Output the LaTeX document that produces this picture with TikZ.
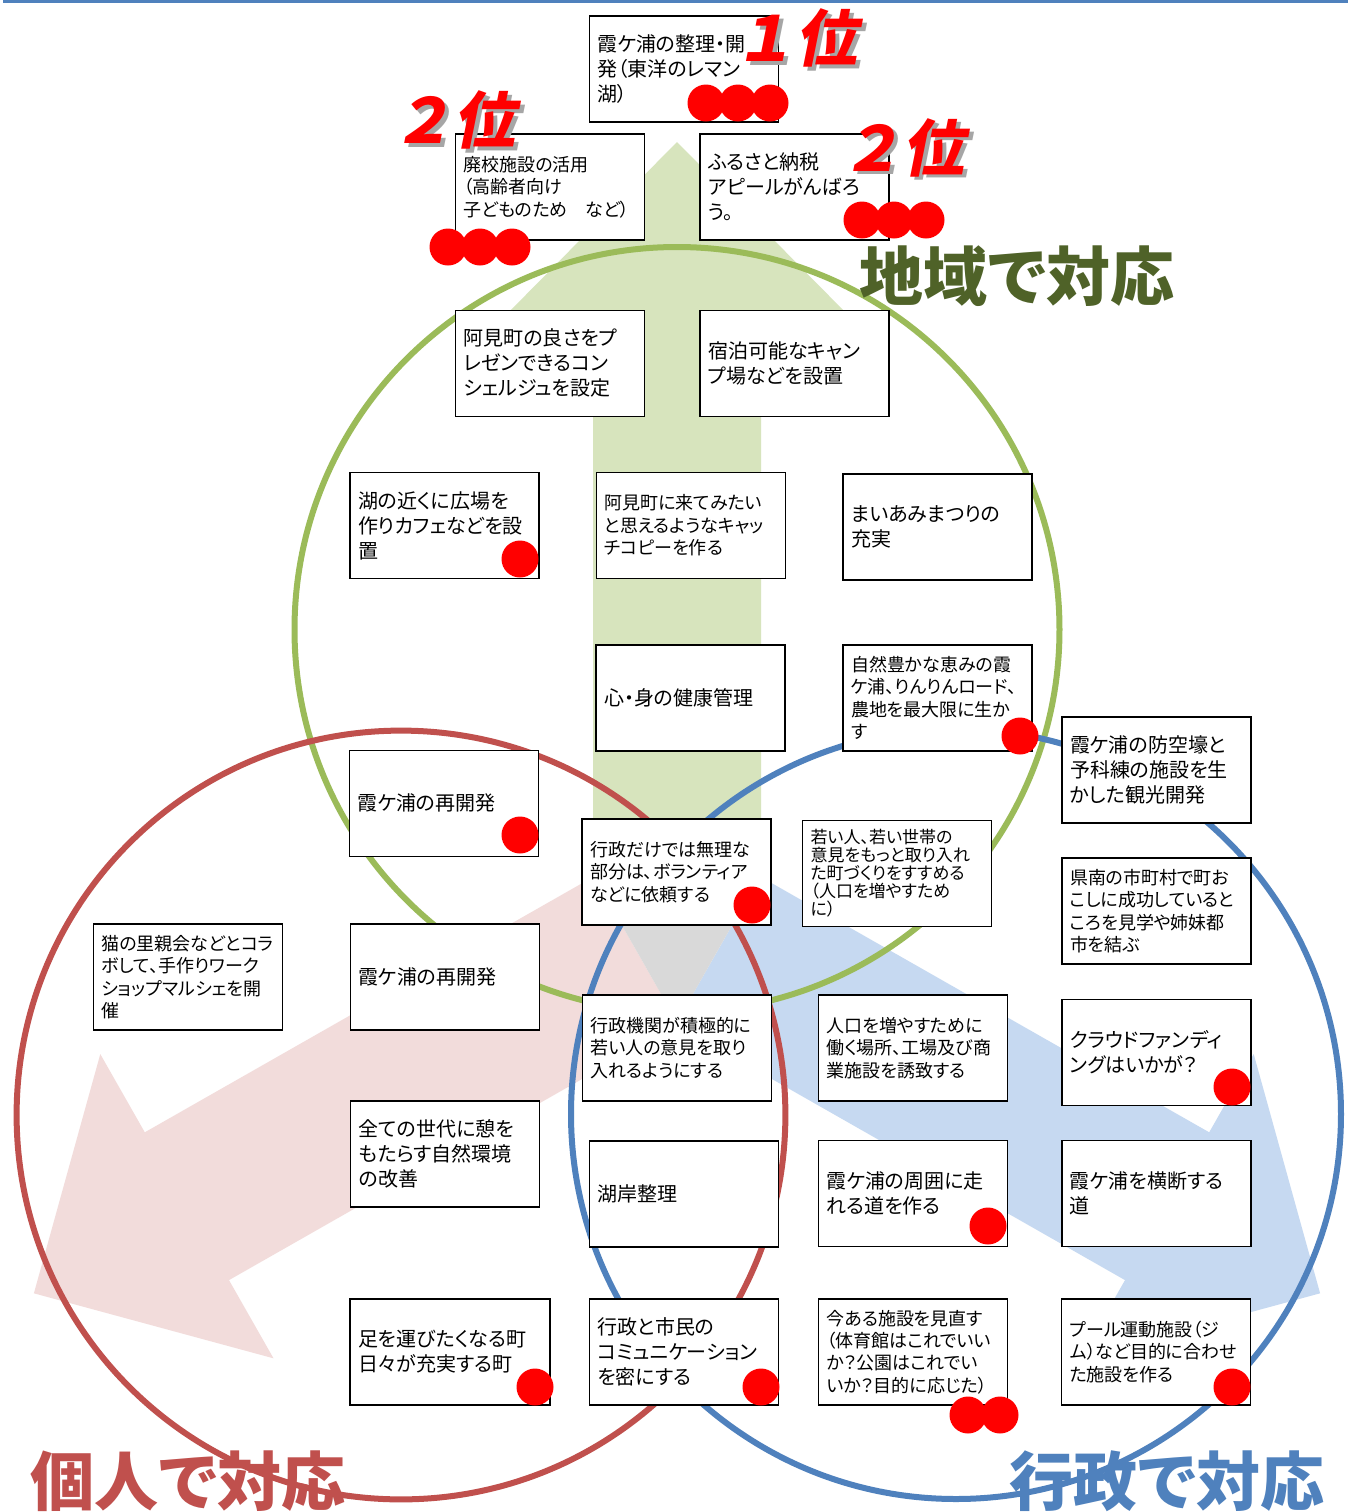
\documentclass[tikz,border=0pt]{standalone}
\usepackage{fontspec}
\newfontfamily\cjk{Noto Sans CJK JP}[RawFeature=+palt]
\newfontfamily\cjkrank{Noto Sans CJK JP}[FakeSlant=0.2]
\definecolor{cgreen}{HTML}{9BBB59}
\definecolor{cred}{HTML}{C0504D}
\definecolor{cblue}{HTML}{4F81BD}
\definecolor{agreen}{HTML}{D7E4BD}
\definecolor{apink}{HTML}{F2DCDB}
\definecolor{ablue}{HTML}{C6D9F1}
\definecolor{agray}{HTML}{D9D9D9}
\definecolor{tgreen}{HTML}{4F6228}
\definecolor{dotred}{HTML}{FF0000}
\newcommand{\rankshadow}[1]{\makebox[0pt][l]{\raisebox{-1.75pt}{\hspace{2pt}\color{black!35}#1}}#1}
\tikzset{
  bx/.style={draw=black, line width=0.6pt, fill=white, minimum height=53pt,
    text width=86.5pt, inner xsep=4pt, inner ysep=0pt, align=left},
  fa/.style={font=\cjk\fontsize{10}{12.5}\selectfont},
  fb/.style={font=\cjk\fontsize{9}{11.2}\selectfont},
  fc/.style={font=\cjk\fontsize{8.5}{9}\selectfont},
  reddot/.style={circle, fill=dotred, draw=none, minimum size=18.5pt, inner sep=0pt},
  ring/.style={line width=3pt},
  biglabel/.style={font=\cjk\bfseries\fontsize{32}{32}\selectfont, anchor=base, inner sep=0pt},
  rank/.style={font=\cjkrank\bfseries\fontsize{31}{31}\selectfont, anchor=base, inner sep=0pt, text=dotred},
}
\begin{document}
\begin{tikzpicture}[x=0.5pt,y=-0.5pt]
\useasboundingbox (0,0) rectangle (1355,1512);
\fill[white] (0,0) rectangle (1355,1512);
\fill[cblue] (3,0) rectangle (1348,2.5);

% arrows
\fill[agreen] (593,880) -- (593,318) -- (503,318) -- (677,142) -- (851,318) -- (761,318) -- (761,880) -- cycle;
\fill[apink] (594.1,876.4) -- (144.8,1132.3) -- (100.3,1054.1) -- (33.9,1293.3) -- (273.5,1358.3) -- (229,1280.1) -- (678.3,1024.2) -- cycle;
\fill[ablue] (759.9,876.4) -- (1209.2,1132.3) -- (1253.7,1054.1) -- (1320.1,1293.3) -- (1080.5,1358.3) -- (1125,1280.1) -- (675.7,1024.2) -- cycle;
\fill[agray] (594.1,876.4) -- (759.9,876.4) -- (677,1022) -- cycle;

% circles
\draw[ring, cgreen] (677,629.5) circle[radius=191.25pt];
\draw[ring, cred] (401,1115) circle[radius=192.2pt];
\draw[ring, cblue] (956,1114) circle[radius=192.5pt];

% boxes
\node[bx,fa] (b1) at (684,69) {霞ケ浦の整理・開\\発（東洋のレマン\\湖）};
\node[bx,fb] (b2) at (550,187) {廃校施設の活用\\（高齢者向け\\子どものため　など）};
\node[bx,fa] (b3) at (794.5,187) {ふるさと納税\\アピールがんばろ\\う。};
\node[bx,fa] (b4) at (550,363.4) {阿見町の良さをプ\\レゼンできるコン\\シェルジュを設定};
\node[bx,fa] (b5) at (794.5,363.4) {宿泊可能なキャン\\プ場などを設置};
\node[bx,fa] (b6) at (444.5,525.5) {湖の近くに広場を\\作りカフェなどを設\\置};
\node[bx,fb] (b7) at (690.7,525.5) {阿見町に来てみたい\\と思えるようなキャッ\\チコピーを作る};
\node[bx,fa] (b8) at (937.5,527) {まいあみまつりの\\充実};
\node[bx,fa] (b9) at (690.5,698) {心・身の健康管理};
\node[bx,fb] (b10) at (937.5,698) {自然豊かな恵みの霞\\ケ浦、りんりんロード、\\農地を最大限に生か\\す};
\node[bx,fa] (b11) at (1156.5,770) {霞ケ浦の防空壕と\\予科練の施設を生\\かした観光開発};
\node[bx,fa] (b12) at (444,803.4) {霞ケ浦の再開発};
\node[bx,fb] (b13) at (676.5,872) {行政だけでは無理な\\部分は、ボランティア\\などに依頼する};
\node[bx,fc] (b14) at (897,873.5) {若い人、若い世帯の\\意見をもっと取り入れ\\た町づくりをすすめる\\（人口を増やすため\\に）};
\node[bx,fb] (b15) at (1156.5,911) {県南の市町村で町お\\こしに成功していると\\ころを見学や姉妹都\\市を結ぶ};
\node[bx,fb] (b16) at (188,977) {猫の里親会などとコラ\\ボして、手作りワーク\\ショップマルシェを開\\催};
\node[bx,fa] (b17) at (444.8,977) {霞ケ浦の再開発};
\node[bx,fa] (b18) at (445.3,1154) {全ての世代に憩を\\もたらす自然環境\\の改善};
\node[bx,fa,text width=92pt] (b19) at (450,1352) {足を運びたくなる町\\日々が充実する町};
\node[bx,fb] (b20) at (677,1048) {行政機関が積極的に\\若い人の意見を取り\\入れるようにする};
\node[bx,fb] (b21) at (913,1048) {人口を増やすために\\働く場所、工場及び商\\業施設を誘致する};
\node[bx,fa] (b22) at (1156.4,1052.5) {クラウドファンディ\\ングはいかが？};
\node[bx,fa] (b23) at (683.7,1194) {湖岸整理};
\node[bx,fa] (b24) at (913,1193.7) {霞ケ浦の周囲に走\\れる道を作る};
\node[bx,fa] (b25) at (1156.4,1193.7) {霞ケ浦を横断する\\道};
\node[bx,fa] (b26) at (684,1352) {行政と市民の\\コミュニケーション\\を密にする};
\node[bx,fb] (b27) at (913,1352) {今ある施設を見直す\\（体育館はこれでいい\\か？公園はこれでい\\いか？目的に応じた）};
\node[bx,fb] (b28) at (1156.3,1352) {プール運動施設（ジ\\ム）など目的に合わせ\\た施設を作る};

% red dots
\node[reddot] (d1a) at (706,103) {};
\node[reddot] (d1b) at (738,103) {};
\node[reddot] (d1c) at (770,103) {};
\node[reddot] (d2a) at (448,247) {};
\node[reddot] (d2b) at (480,247) {};
\node[reddot] (d2c) at (512,247) {};
\node[reddot] (d3a) at (862,220) {};
\node[reddot] (d3b) at (894,220) {};
\node[reddot] (d3c) at (926,220) {};
\node[reddot] (d6) at (520,559) {};
\node[reddot] (d10) at (1020,736) {};
\node[reddot] (d12) at (520,835) {};
\node[reddot] (d13) at (752,905) {};
\node[reddot] (d22) at (1232,1087) {};
\node[reddot] (d24) at (988,1226) {};
\node[reddot] (d19) at (535,1387) {};
\node[reddot] (d26) at (761,1387) {};
\node[reddot] (d27a) at (968,1415) {};
\node[reddot] (d27b) at (1000,1415) {};
\node[reddot] (d28) at (1232,1387) {};

% big labels
\node[biglabel, text=tgreen] (lchiiki) at (1017,300) {地域で対応};
\node[biglabel, text=cred] (lkojin) at (188,1505) {個人で対応};
\node[biglabel, text=cblue] (lgyosei) at (1167,1505) {行政で対応};

% ranks
\node[rank] (r1) at (795,61.5) {\rankshadow{１位}};
\node[rank] (r2l) at (453,143.5) {\rankshadow{２位}};
\node[rank] (r2r) at (902,171) {\rankshadow{２位}};
\end{tikzpicture}
\end{document}
